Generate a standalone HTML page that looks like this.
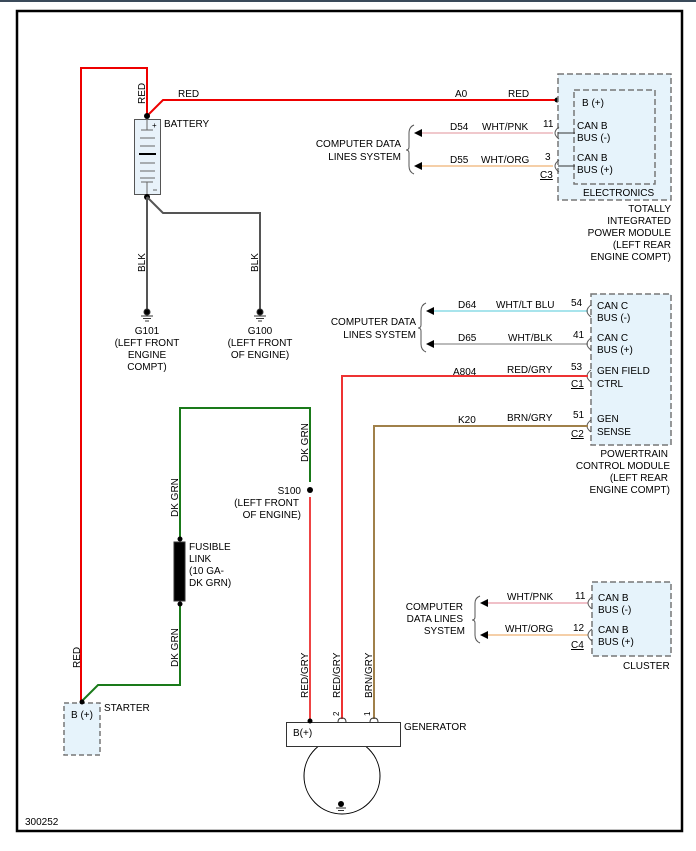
<!DOCTYPE html>
<html><head><meta charset="utf-8"><style>
html,body{margin:0;padding:0;background:#fff;}
svg{display:block;font-family:"Liberation Sans",Arial,sans-serif;font-size:10px;}
</style></head><body>
<svg width="696" height="851" viewBox="0 0 696 851" xmlns="http://www.w3.org/2000/svg">
<rect x="0" y="0" width="696" height="2" fill="#3a4a5a"/>
<rect x="17" y="11" width="665" height="820" fill="none" stroke="#000" stroke-width="2.5"/>
<text x="25" y="825">300252</text>

<!-- Red battery wire -->
<polyline points="81,702 81,68 147,68 147,116" fill="none" stroke="#e00" stroke-width="2"/>
<polyline points="147,116 163,100 557,100" fill="none" stroke="#e00" stroke-width="2"/>
<text transform="translate(145,104) rotate(-90)">RED</text>
<text x="178" y="97">RED</text>
<text x="455" y="97">A0</text>
<text x="508" y="97">RED</text>
<text transform="translate(80,668) rotate(-90)">RED</text>
<circle cx="557" cy="100" r="2.5" fill="#000"/>
<line x1="557" y1="100" x2="572" y2="100" stroke="#000"/>

<!-- battery -->
<rect x="134.5" y="119.5" width="26" height="75" fill="#e8f2fa" stroke="#555"/>
<g stroke="#666" stroke-width="1">
<line x1="147" y1="119" x2="147" y2="130"/><line x1="141" y1="130" x2="153" y2="130"/>
<line x1="140" y1="138" x2="155" y2="138"/><line x1="140" y1="146" x2="155" y2="146"/>
<line x1="140" y1="163" x2="155" y2="163"/><line x1="140" y1="171" x2="155" y2="171"/>
<line x1="140" y1="178" x2="155" y2="178"/>
<line x1="141" y1="182" x2="153" y2="182"/><line x1="147" y1="182" x2="147" y2="194"/>
</g>
<line x1="139" y1="154" x2="156" y2="154" stroke="#000" stroke-width="2"/>
<text x="152" y="128" font-size="8">+</text>
<line x1="153" y1="190" x2="157" y2="190" stroke="#666"/>
<circle cx="147" cy="116" r="3" fill="#000"/>
<circle cx="147" cy="197" r="3" fill="#000"/>
<text x="164" y="127">BATTERY</text>

<!-- BLK grounds -->
<g fill="none" stroke="#555" stroke-width="2">
<line x1="147" y1="197" x2="147" y2="310"/>
<polyline points="147,197 163,213 260,213 260,310"/>
</g>
<text transform="translate(145,272) rotate(-90)">BLK</text>
<text transform="translate(258,272) rotate(-90)">BLK</text>
<g stroke="#333">
<circle cx="147" cy="312" r="3" fill="#000"/>
<line x1="141" y1="316" x2="153" y2="316"/><line x1="143" y1="318.5" x2="151" y2="318.5"/><line x1="145" y1="321" x2="149" y2="321"/>
<circle cx="260" cy="312" r="3" fill="#000"/>
<line x1="254" y1="316" x2="266" y2="316"/><line x1="256" y1="318.5" x2="264" y2="318.5"/><line x1="258" y1="321" x2="262" y2="321"/>
</g>
<g text-anchor="middle">
<text x="147" y="334">G101</text><text x="147" y="346">(LEFT FRONT</text><text x="147" y="358">ENGINE</text><text x="147" y="370">COMPT)</text>
<text x="260" y="334">G100</text><text x="260" y="346">(LEFT FRONT</text><text x="260" y="358">OF ENGINE)</text>
</g>

<!-- TIPM -->
<rect x="558" y="74" width="113" height="126" fill="#e6f3fb" stroke="#777" stroke-width="1.5" stroke-dasharray="6,3"/>
<rect x="574" y="90" width="81" height="94" fill="none" stroke="#777" stroke-width="1.5" stroke-dasharray="6,3"/>
<text x="582" y="106">B (+)</text>
<text x="577" y="129">CAN B</text><text x="577" y="141">BUS (-)</text>
<text x="577" y="161">CAN B</text><text x="577" y="173">BUS (+)</text>
<text x="583" y="196">ELECTRONICS</text>
<g text-anchor="end">
<text x="671" y="212">TOTALLY</text><text x="671" y="224">INTEGRATED</text><text x="671" y="236">POWER MODULE</text><text x="671" y="248">(LEFT REAR</text><text x="671" y="260">ENGINE COMPT)</text>
</g>
<line x1="420" y1="133" x2="553" y2="133" stroke="#f0c8cc" stroke-width="2"/>
<line x1="420" y1="166" x2="553" y2="166" stroke="#f5cfa8" stroke-width="2"/>
<polygon points="414,133 422,129 422,137" fill="#000"/><polygon points="414,166 422,162 422,170" fill="#000"/>
<path d="M414,125 Q409,127 409,133 L409,147 Q409,150 406,150 Q409,150 409,153 L409,166 Q409,172 414,174" fill="none" stroke="#555"/>
<text x="450" y="130">D54</text><text x="482" y="130">WHT/PNK</text><text x="543" y="127">11</text>
<text x="450" y="163">D55</text><text x="481" y="163">WHT/ORG</text><text x="545" y="160">3</text>
<text x="540" y="178" text-decoration="underline">C3</text>
<path d="M559,127 Q555,130 555,133 Q555,136 559,139 M559,160 Q555,163 555,166 Q555,169 559,172" fill="none" stroke="#555"/>
<line x1="558" y1="133" x2="575" y2="133" stroke="#333"/><line x1="558" y1="166" x2="575" y2="166" stroke="#333"/>
<g text-anchor="end"><text x="401" y="147">COMPUTER DATA</text><text x="401" y="160">LINES SYSTEM</text></g>

<!-- PCM -->
<rect x="591" y="294" width="80" height="151" fill="#e6f3fb" stroke="#777" stroke-width="1.5" stroke-dasharray="6,3"/>
<text x="597" y="309">CAN C</text><text x="597" y="321">BUS (-)</text>
<text x="597" y="341">CAN C</text><text x="597" y="353">BUS (+)</text>
<text x="597" y="374">GEN FIELD</text><text x="597" y="387">CTRL</text>
<text x="597" y="422">GEN</text><text x="597" y="435">SENSE</text>
<g text-anchor="end">
<text x="668" y="457">POWERTRAIN</text><text x="670" y="469">CONTROL MODULE</text><text x="668" y="481">(LEFT REAR</text><text x="670" y="493">ENGINE COMPT)</text>
</g>
<line x1="432" y1="311" x2="588" y2="311" stroke="#a8e4ec" stroke-width="2"/>
<line x1="432" y1="344" x2="588" y2="344" stroke="#bbb" stroke-width="2"/>
<polygon points="426,311 434,307 434,315" fill="#000"/><polygon points="426,344 434,340 434,348" fill="#000"/>
<path d="M426,303 Q421,305 421,311 L421,325 Q421,328 418,328 Q421,328 421,331 L421,344 Q421,350 426,352" fill="none" stroke="#555"/>
<g text-anchor="end"><text x="416" y="325">COMPUTER DATA</text><text x="416" y="338">LINES SYSTEM</text></g>
<text x="458" y="308">D64</text><text x="496" y="308">WHT/LT BLU</text><text x="571" y="306">54</text>
<text x="458" y="341">D65</text><text x="508" y="341">WHT/BLK</text><text x="573" y="338">41</text>
<text x="453" y="375">A804</text><text x="507" y="373">RED/GRY</text><text x="571" y="370">53</text>
<text x="571" y="387" text-decoration="underline">C1</text>
<text x="458" y="423">K20</text><text x="507" y="421">BRN/GRY</text><text x="573" y="418">51</text>
<text x="571" y="437" text-decoration="underline">C2</text>
<path d="M591,305 Q587,308 587,311 Q587,314 591,317 M591,338 Q587,341 587,344 Q587,347 591,350 M591,370 Q587,373 587,376 Q587,379 591,382 M591,420 Q587,423 587,426 Q587,429 591,432" fill="none" stroke="#555"/>
<polyline points="588,376 342,376 342,719" fill="none" stroke="#e33" stroke-width="2"/>
<polyline points="588,426 374,426 374,719" fill="none" stroke="#a0804a" stroke-width="2"/>
<text transform="translate(340,698) rotate(-90)">RED/GRY</text>
<text transform="translate(372,698) rotate(-90)">BRN/GRY</text>

<!-- green fusible -->
<polyline points="180,540 180,408 310,408 310,482" fill="none" stroke="#1a7a1a" stroke-width="2"/>
<polyline points="180,604 180,685 98,685 82,701" fill="none" stroke="#1a7a1a" stroke-width="2"/>
<text transform="translate(178,517) rotate(-90)">DK GRN</text>
<text transform="translate(178,667) rotate(-90)">DK GRN</text>
<text transform="translate(308,462) rotate(-90)">DK GRN</text>
<rect x="174" y="542" width="11" height="59" fill="#000" stroke="#333"/>
<circle cx="180" cy="539" r="2.5" fill="#000"/><circle cx="180" cy="604" r="2.5" fill="#000"/>
<text x="189" y="550">FUSIBLE</text><text x="189" y="562">LINK</text><text x="189" y="574">(10 GA-</text><text x="189" y="586">DK GRN)</text>
<circle cx="310" cy="490" r="3" fill="#000"/>
<line x1="310" y1="497" x2="310" y2="721" stroke="#e44" stroke-width="2"/>
<g text-anchor="end"><text x="301" y="494">S100</text><text x="299" y="506">(LEFT FRONT</text><text x="301" y="518">OF ENGINE)</text></g>
<text transform="translate(308,698) rotate(-90)">RED/GRY</text>

<!-- starter -->
<rect x="64" y="703" width="36" height="52" fill="#e6f3fb" stroke="#777" stroke-width="1.5" stroke-dasharray="5,3"/>
<circle cx="82" cy="702" r="2.5" fill="#000"/>
<text x="71" y="718">B (+)</text>
<text x="104" y="711">STARTER</text>

<!-- generator -->
<circle cx="342" cy="776" r="38" fill="#fff" stroke="#000"/>
<rect x="286.5" y="722.5" width="114" height="24" fill="#fff" stroke="#333"/>
<path d="M338,722 Q338,718 342,718 Q346,718 346,722 M370,722 Q370,718 374,718 Q378,718 378,722" fill="none" stroke="#333"/>
<circle cx="310" cy="721" r="2.5" fill="#000"/>
<text x="293" y="736">B(+)</text>
<text transform="translate(339,716) rotate(-90)" font-size="8">2</text>
<text transform="translate(370,716) rotate(-90)" font-size="8">1</text>
<text x="404" y="730">GENERATOR</text>
<circle cx="341" cy="804" r="3" fill="#000"/>
<line x1="336" y1="808" x2="346" y2="808" stroke="#333"/><line x1="338" y1="810.5" x2="344" y2="810.5" stroke="#333"/>

<!-- cluster -->
<rect x="592" y="582" width="79" height="74" fill="#e6f3fb" stroke="#777" stroke-width="1.5" stroke-dasharray="6,3"/>
<text x="598" y="601">CAN B</text><text x="598" y="613">BUS (-)</text>
<text x="598" y="633">CAN B</text><text x="598" y="645">BUS (+)</text>
<text x="623" y="669">CLUSTER</text>
<line x1="486" y1="603" x2="588" y2="603" stroke="#f0c0c8" stroke-width="2"/>
<line x1="486" y1="635" x2="588" y2="635" stroke="#f5cfa8" stroke-width="2"/>
<polygon points="480,603 488,599 488,607" fill="#000"/><polygon points="480,635 488,631 488,639" fill="#000"/>
<path d="M480,596 Q475,598 475,603 L475,617 Q475,620 472,620 Q475,620 475,623 L475,635 Q475,641 480,643" fill="none" stroke="#555"/>
<path d="M592,597 Q588,600 588,603 Q588,606 592,609 M592,629 Q588,632 588,635 Q588,638 592,641" fill="none" stroke="#555"/>
<text x="507" y="600">WHT/PNK</text><text x="575" y="599">11</text>
<text x="505" y="632">WHT/ORG</text><text x="573" y="631">12</text>
<text x="571" y="648" text-decoration="underline">C4</text>
<g text-anchor="end"><text x="463" y="610">COMPUTER</text><text x="463" y="622">DATA LINES</text><text x="465" y="634">SYSTEM</text></g>
</svg>
</body></html>
